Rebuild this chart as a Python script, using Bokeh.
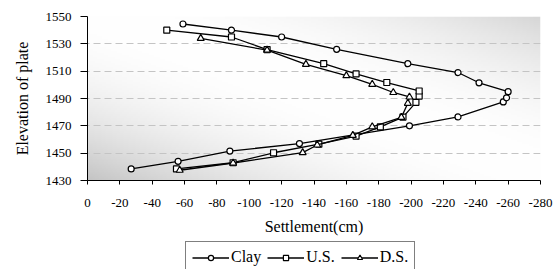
import numpy as np
from bokeh.plotting import figure
from bokeh.layouts import column
from bokeh.models import Range1d, FixedTicker, Legend, LegendItem
from bokeh.embed import file_html
from bokeh.resources import INLINE

# ---- data ----
clay_x = [-27, -56, -88, -131, -199, -229, -257, -259, -260, -242, -229, -198, -154, -120, -89, -59]
clay_y = [1438.5, 1444, 1451.5, 1457, 1470, 1476.5, 1487.5, 1490.5, 1495, 1501.5, 1509, 1515.5, 1526, 1535, 1540, 1544.5]

us_x = [-55, -90, -115, -143, -166, -181, -195, -203, -205, -205, -185, -166, -146, -111, -89, -49]
us_y = [1438.5, 1443, 1450.3, 1456.6, 1462.5, 1469.2, 1476.4, 1487.2, 1491.8, 1495.5, 1501.7, 1508, 1515.5, 1525.8, 1535, 1540]

ds_x = [-57, -90, -133, -142, -164, -176, -194, -198, -199, -189, -176, -160, -135, -111, -70]
ds_y = [1437.5, 1442.8, 1450.4, 1456, 1463, 1469.3, 1476.2, 1486.5, 1491.1, 1494.4, 1500.4, 1506.7, 1515, 1525.4, 1534]

x_ticks = list(range(0, -281, -20))
y_ticks = list(range(1430, 1551, 20))
series_names = ["Clay", "U.S.", "D.S."]

FONT = "Liberation Serif"

p = figure(frame_width=453, frame_height=164, x_range=Range1d(0, -280), y_range=Range1d(1430, 1550),
           output_backend="svg", toolbar_location=None,
           min_border_left=87, min_border_right=20, min_border_top=16, min_border_bottom=60)
p.outline_line_color = None
p.background_fill_color = "white"
p.border_fill_color = "white"

# background gradient of the plot area (style only), on its own unit ranges
p.extra_x_ranges = {"bg": Range1d(0, 1)}
p.extra_y_ranges = {"bg": Range1d(0, 1)}
ny, nx = 80, 200
u = np.linspace(0, 1, nx)[None, :]
v = np.linspace(0, 1, ny)[:, None]
s = (u + v) / 2.0
g = np.where(s < 0.52, 255 - 58 * ((0.52 - s) / 0.52) ** 2, 255 - 40 * ((s - 0.52) / 0.48) ** 2)
g = np.clip(g, 0, 255).astype(np.uint32)
img = ((255 << 24) | (g << 16) | (g << 8) | g).astype(np.uint32)
p.image_rgba(image=[img], x=0, y=0, dw=1, dh=1, level="image",
             x_range_name="bg", y_range_name="bg")

p.xgrid.visible = False
p.ygrid.grid_line_color = "#c4c4c4"
p.ygrid.grid_line_dash = "7 4"
p.ygrid.grid_line_width = 1

p.xaxis.ticker = FixedTicker(ticks=x_ticks)
p.yaxis.ticker = FixedTicker(ticks=y_ticks)
p.xaxis.major_label_overrides = {t: str(t) for t in x_ticks}
for ax in (p.xaxis[0], p.yaxis[0]):
    ax.axis_line_color = "black"
    ax.major_tick_line_color = "black"
    ax.minor_tick_line_color = None
    ax.major_tick_in = 0
    ax.major_label_text_font = FONT
    ax.major_label_text_font_size = "13px"
    ax.major_label_text_color = "black"
    ax.axis_label_text_font = FONT
    ax.axis_label_text_font_style = "normal"
    ax.axis_label_text_font_size = "16px"
    ax.axis_label_text_color = "black"
p.xaxis.major_tick_out = 4
p.xaxis.major_label_standoff = 14
p.xaxis.axis_label = "Settlement(cm)"
p.xaxis.axis_label_standoff = 8
p.yaxis.major_tick_out = 7
p.yaxis.major_label_standoff = 9
p.yaxis.axis_label = "Elevation of plate"
p.yaxis.axis_label_standoff = 12

series = [(clay_x, clay_y), (us_x, us_y), (ds_x, ds_y)]
styles = [("circle", 6), ("square", 6), ("triangle", 7)]
for (xs, ys), (marker, msize) in zip(series, styles):
    p.line(xs, ys, line_color="black", line_width=1.3)
    p.scatter(xs, ys, marker=marker, size=msize, fill_color="white", line_color="black", line_width=1.2)

# legend strip below the chart (its renderers carry the same data, out of this strip's view)
p2 = figure(frame_width=453, frame_height=36, x_range=Range1d(0, 1), y_range=Range1d(0, 1),
            output_backend="svg", toolbar_location=None,
            min_border_left=87, min_border_right=20, min_border_top=0, min_border_bottom=0)
p2.axis.visible = False
p2.grid.visible = False
p2.outline_line_color = None
p2.border_fill_color = "white"
p2.background_fill_color = "white"
items = []
for (xs, ys), (marker, msize), name in zip(series, styles, series_names):
    ln = p2.line(xs, ys, line_color="black", line_width=1.3)
    sc = p2.scatter(xs, ys, marker=marker, size=5, fill_color="white", line_color="black", line_width=1.2)
    items.append(LegendItem(label=name, renderers=[ln, sc]))
legend = Legend(items=items, orientation="horizontal", location=(98, 3),
                border_line_color="black", border_line_width=1,
                background_fill_color="white", background_fill_alpha=1,
                label_text_font=FONT, label_text_font_size="16px", label_text_color="black",
                glyph_width=37, glyph_height=13, label_standoff=2, label_height=18,
                spacing=6, padding=6, margin=0)
p2.add_layout(legend, "center")

layout = column(p, p2, spacing=0)
open("out.html", "w").write(file_html(layout, INLINE))
